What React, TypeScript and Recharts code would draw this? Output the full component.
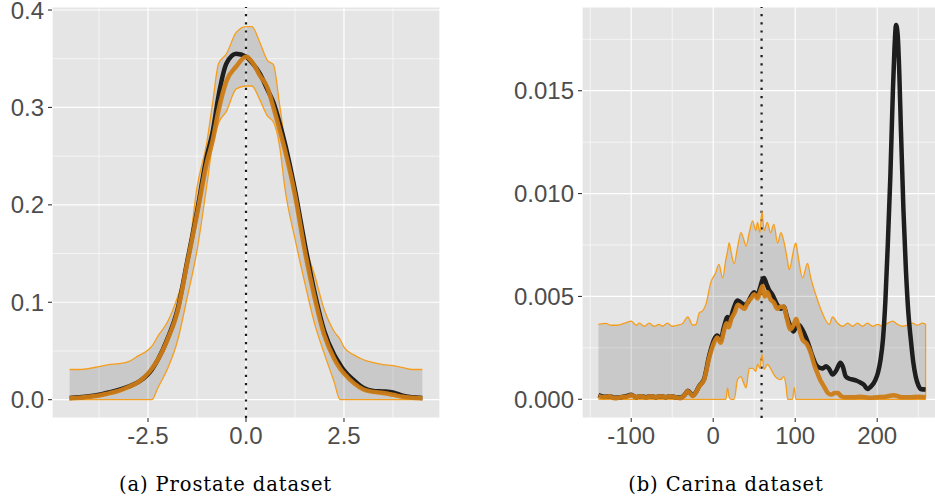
import React from "react";
import { ComposedChart, Area, Line, XAxis, YAxis, ReferenceLine, CartesianGrid } from "recharts";

// ---------- (a) Prostate dataset ----------
const prostateX = [
  -4.5, -4.25, -4, -3.75, -3.5, -3.25, -3, -2.75, -2.5, -2.4,
  -2.25, -2, -1.75, -1.5, -1.25, -1, -0.85, -0.7, -0.5, -0.25,
  0, 0.15, 0.35, 0.55, 0.7, 0.85, 1, 1.25, 1.5, 1.75,
  2, 2.25, 2.4, 2.5, 2.75, 3, 3.25, 3.5, 3.75, 4,
  4.25, 4.5,
];
const prostateTrue = [
  0.0018, 0.0025, 0.0035, 0.005, 0.0075, 0.01, 0.0135, 0.018, 0.026, 0.031,
  0.041, 0.063, 0.092, 0.142, 0.193, 0.25, 0.275, 0.312, 0.345, 0.355,
  0.352, 0.346, 0.335, 0.318, 0.305, 0.285, 0.262, 0.215, 0.16, 0.11,
  0.07, 0.046, 0.036, 0.03, 0.02, 0.012, 0.009, 0.0085, 0.0075, 0.004,
  0.0025, 0.0018,
];
const prostateMean = [
  0.0014, 0.002, 0.003, 0.0043, 0.0065, 0.009, 0.013, 0.018, 0.027, 0.032,
  0.041, 0.062, 0.09, 0.14, 0.19, 0.243, 0.266, 0.297, 0.327, 0.342,
  0.352, 0.347, 0.333, 0.32, 0.3, 0.278, 0.255, 0.21, 0.153, 0.105,
  0.066, 0.042, 0.032, 0.027, 0.017, 0.0105, 0.008, 0.0068, 0.005, 0.003,
  0.002, 0.0014,
];
const prostateLower = [
  0, 0, 0, 0, 0, 0, 0, 0, 0, 0,
  0.012, 0.032, 0.06, 0.105, 0.153, 0.22, 0.262, 0.284, 0.296, 0.319,
  0.322, 0.322, 0.308, 0.291, 0.285, 0.262, 0.215, 0.165, 0.12, 0.078,
  0.047, 0.018, 0, 0, 0, 0, 0, 0, 0, 0,
  0, 0,
];
const prostateUpper = [
  0.031, 0.031, 0.032, 0.034, 0.036, 0.037, 0.039, 0.045, 0.051, 0.055,
  0.065, 0.08, 0.105, 0.14, 0.218, 0.264, 0.305, 0.345, 0.355, 0.377,
  0.383, 0.383, 0.367, 0.348, 0.344, 0.305, 0.262, 0.21, 0.16, 0.128,
  0.092, 0.07, 0.062, 0.054, 0.046, 0.041, 0.038, 0.036, 0.035, 0.033,
  0.031, 0.031,
];
const prostateXTicks = [-2.5, 0, 2.5];
const prostateXLabels = ["-2.5", "0.0", "2.5"];
const prostateXMinor = [-3.75, -1.25, 1.25, 3.75];
const prostateYTicks = [0, 0.1, 0.2, 0.3, 0.4];
const prostateYLabels = ["0.0", "0.1", "0.2", "0.3", "0.4"];
const prostateYMinor = [0.05, 0.15, 0.25, 0.35];
const prostateVLine = 0;

// ---------- (b) Carina dataset ----------
const carinaBandX = [
  -140, -131, -125, -117, -108, -100, -94, -90, -84, -78,
  -72, -66, -62, -56, -50, -43, -37, -31, -25, -21,
  -17, -13, -9, -3, 3, 7, 11.5, 15.5, 17.5, 19.5,
  21.6, 25.6, 29.7, 33.8, 37, 40, 44, 48, 52, 54,
  57, 59.4, 62, 66, 70, 74, 78.5, 82.6, 86, 89,
  90.7, 92.7, 96.8, 98.8, 100.8, 103, 109, 115, 119, 127,
  133, 141.5, 145.6, 151.7, 158, 164, 170, 176, 182, 188,
  194.6, 200.5, 206.6, 212.7, 218.8, 225, 231, 237, 243, 249,
  255, 259,
];
const carinaUpper = [
  0.00364, 0.00369, 0.0036, 0.0036, 0.0037, 0.0038, 0.0036, 0.0037, 0.00355, 0.0037,
  0.00355, 0.00364, 0.00355, 0.0037, 0.00355, 0.0036, 0.0037, 0.004, 0.0036, 0.00364,
  0.0042, 0.0043, 0.0046, 0.00567, 0.00615, 0.00656, 0.0059, 0.0068, 0.0072, 0.0076,
  0.0072, 0.0066, 0.0074, 0.0081, 0.0078, 0.00745, 0.0081, 0.00867, 0.0082, 0.0086,
  0.0081, 0.00915, 0.0082, 0.0086, 0.0081, 0.0085, 0.0076, 0.0081, 0.0077, 0.0071,
  0.0067, 0.0063, 0.007, 0.0074, 0.0076, 0.0071, 0.0059, 0.0066, 0.0059, 0.00485,
  0.0042, 0.00364, 0.004, 0.0037, 0.00355, 0.0037, 0.00355, 0.0037, 0.00355, 0.0037,
  0.00355, 0.00364, 0.00355, 0.0037, 0.0038, 0.00364, 0.00355, 0.0036, 0.0037, 0.0036,
  0.0037, 0.00365,
];
const carinaLower = [
  0, 0, 0, 0, 0, 0, 0, 0, 0, 0,
  0, 0, 0, 0, 0, 0, 0, 0, 0, 0,
  0, 0, 0, 0, 0, 0, 0, 0, 0.00055, 0.0001,
  0, 0, 0.00096, 0.0011, 0.0008, 0.00055, 0.0015, 0.0015, 0.00136, 0.0017,
  0.0015, 0.0022, 0.00145, 0.0017, 0.0015, 0.0012, 0.001, 0.00096, 0.0011, 0.0006,
  0, 0, 0, 0.00058, 0, 0, 0, 0, 0, 0,
  0, 0, 0, 0, 0, 0, 0, 0, 0, 0,
  0, 0, 0, 0, 0, 0, 0, 0, 0, 0,
  0, 0,
];
const carinaMeanX = [
  -140, -133, -127, -120, -113, -106, -100, -94, -88, -82,
  -76, -70, -64, -58, -52, -46, -40, -35, -31, -25,
  -20, -17, -11, -5, 1, 5, 9, 13, 16, 19,
  22, 26, 30, 34, 38, 42, 46, 50, 54, 57,
  60, 63, 66, 70, 74, 78, 82, 86, 90, 94,
  98, 101, 105, 109, 114, 119, 123, 127, 131, 135,
  140, 144, 148, 152, 156, 160, 170, 180, 190, 200,
  210, 220, 230, 240, 250, 259,
];
const carinaMean = [
  0.00015, 0.0001, 0.00015, 0.00005, 0.0001, 0.00012, 0.0002, 0.0001, 0.00015, 0.00008,
  0.00015, 0.0001, 0.00015, 0.0001, 0.00015, 0.0001, 0.00005, 0.0002, 0.0004, 0.00015,
  0.0004, 0.00063, 0.00096, 0.002, 0.00275, 0.003, 0.00275, 0.0033, 0.0037, 0.0035,
  0.0039, 0.0042, 0.0046, 0.0045, 0.0044, 0.0047, 0.0049, 0.0051, 0.0049, 0.0052,
  0.0055, 0.005, 0.0052, 0.00485, 0.0047, 0.0044, 0.0045, 0.0045, 0.0039, 0.0034,
  0.0036, 0.0039, 0.0034, 0.0029, 0.0027, 0.00226, 0.0017, 0.00128, 0.0009, 0.00063,
  0.0003, 0.00023, 0.0003, 0.0003, 0.00015, 0.0001, 0.0001, 0.00012, 0.00008, 0.0001,
  0.00012, 0.0002, 0.0001, 0.0001, 0.00012, 0.0001,
];
const carinaTrueX = [
  -140, -133, -127, -120, -113, -106, -100, -94, -88, -82,
  -76, -70, -64, -58, -52, -46, -40, -35, -31, -25,
  -20, -17, -11, -5, 1, 5, 9, 13, 17.5, 20,
  24, 29.7, 34, 38, 42, 46, 50, 54, 57, 60,
  62, 65, 68.3, 72, 78, 82.6, 86, 90, 94.8, 98,
  101, 105, 107, 111, 116, 121, 125, 129.6, 133, 137.6,
  141, 145.7, 150, 155, 158, 161.8, 166, 170, 175, 180,
  184, 188, 192, 198, 201, 204, 207, 210, 213, 216,
  219, 221, 223, 225, 227, 229, 232, 235, 238, 241,
  244, 247, 250, 253, 259,
];
const carinaTrue = [
  0.0002, 0.00012, 0.00015, 0.00008, 0.0001, 0.00015, 0.00022, 0.0001, 0.00015, 0.0001,
  0.00015, 0.0001, 0.00015, 0.0001, 0.00015, 0.0001, 0.00008, 0.0002, 0.00042, 0.00018,
  0.00042, 0.00065, 0.001, 0.0021, 0.0029, 0.0031, 0.0029, 0.0035, 0.004, 0.0038,
  0.0043, 0.0048, 0.0047, 0.0046, 0.0047, 0.005, 0.0052, 0.005, 0.0054, 0.0058,
  0.0059, 0.0056, 0.0053, 0.0051, 0.0046, 0.0044, 0.0045, 0.004, 0.0035, 0.0033,
  0.0035, 0.0036, 0.0035, 0.0032, 0.0027, 0.0021, 0.0017, 0.00153, 0.0015, 0.0016,
  0.0015, 0.0012, 0.0014, 0.00177, 0.0016, 0.0011, 0.001, 0.00096, 0.0009, 0.0008,
  0.0007, 0.0005, 0.0006, 0.00096, 0.0013, 0.0019, 0.0029, 0.0048, 0.0076, 0.0108,
  0.0148, 0.017, 0.0182, 0.0177, 0.0158, 0.013, 0.0092, 0.0063, 0.0042, 0.0029,
  0.0018, 0.0011, 0.0007, 0.0005, 0.00047,
];
const carinaXTicks = [-100, 0, 100, 200];
const carinaXLabels = ["-100", "0", "100", "200"];
const carinaXMinor = [-150, -50, 50, 150, 250];
const carinaYTicks = [0, 0.005, 0.01, 0.015];
const carinaYLabels = ["0.000", "0.005", "0.010", "0.015"];
const carinaYMinor = [0.0025, 0.0075, 0.0125, 0.0175];
const carinaVLine = 59;

// ---------- styles ----------
const PANEL_BG = "#E5E5E5";
const BAND_FILL = "#000000";
const BAND_OPACITY = 0.12;
const BAND_EDGE = "#F59E1E";
const MEAN_COLOR = "#CD7C17";
const TRUE_COLOR = "#1E1E1E";
const TICK_FONT = { fill: "#4D4D4D", fontSize: 24, fontFamily: "'Liberation Sans', Arial, sans-serif" };

type Row = { x: number; v: number };
const pairs = (xs: number[], ys: number[]): Row[] => xs.map((x, i) => ({ x, v: ys[i] }));

type PanelProps = {
  width: number;
  height: number;
  margin: { top: number; right: number; bottom: number; left: number };
  yAxisWidth: number;
  xDomain: [number, number];
  yDomain: [number, number];
  xTicks: number[];
  xLabels: string[];
  xMinor: number[];
  yTicks: number[];
  yLabels: string[];
  yMinor: number[];
  bandX: number[];
  lower: number[];
  upper: number[];
  trueX: number[];
  trueY: number[];
  meanX: number[];
  meanY: number[];
  vline: number;
  closeRightEdge?: boolean;
};

function Panel(p: PanelProps) {
  const bandRows = p.bandX.map((x, i) => ({ x, band: [p.lower[i], p.upper[i]] }));
  const lowerRows = pairs(p.bandX, p.lower);
  const upperRows = pairs(p.bandX, p.upper);
  const trueRows = pairs(p.trueX, p.trueY);
  const meanRows = pairs(p.meanX, p.meanY);
  const last = p.bandX.length - 1;
  const edgeRows: Row[] = [
    { x: p.bandX[last], v: p.lower[last] },
    { x: p.bandX[last], v: p.upper[last] },
  ];
  const xFmt = (v: number) => p.xLabels[p.xTicks.indexOf(v)] ?? String(v);
  const yFmt = (v: number) => p.yLabels[p.yTicks.indexOf(v)] ?? String(v);
  return (
    <ComposedChart width={p.width} height={p.height} margin={p.margin}>
      <CartesianGrid fill={PANEL_BG} stroke="#FFFFFF" strokeWidth={1.2} />
      <XAxis
        dataKey="x"
        type="number"
        domain={p.xDomain}
        ticks={p.xTicks}
        interval={0}
        allowDataOverflow
        tickFormatter={xFmt}
        axisLine={false}
        tickLine={{ stroke: "#333333", strokeWidth: 1.1 }}
        tickSize={4}
        tickMargin={5}
        height={32}
        tick={TICK_FONT}
      />
      <YAxis
        type="number"
        domain={p.yDomain}
        ticks={p.yTicks}
        interval={0}
        allowDataOverflow
        tickFormatter={yFmt}
        axisLine={false}
        tickLine={{ stroke: "#333333", strokeWidth: 1.1 }}
        tickSize={4}
        tickMargin={4}
        width={p.yAxisWidth}
        tick={TICK_FONT}
      />
      {p.xMinor.map((v) => (
        <ReferenceLine key={"xm" + v} x={v} stroke="#FFFFFF" strokeWidth={0.6} zIndex={-50} />
      ))}
      {p.yMinor.map((v) => (
        <ReferenceLine key={"ym" + v} y={v} stroke="#FFFFFF" strokeWidth={0.6} zIndex={-50} />
      ))}
      <Area
        data={bandRows}
        dataKey="band"
        type="monotone"
        stroke="none"
        fill={BAND_FILL}
        fillOpacity={BAND_OPACITY}
        isAnimationActive={false}
      />
      <ReferenceLine x={p.vline} stroke="#1A1A1A" strokeWidth={2.2} strokeDasharray="2.2 6" />
      <Line data={upperRows} dataKey="v" type="monotone" stroke={BAND_EDGE} strokeWidth={1.3} dot={false} isAnimationActive={false} />
      <Line data={lowerRows} dataKey="v" type="monotone" stroke={BAND_EDGE} strokeWidth={1.3} dot={false} isAnimationActive={false} />
      {p.closeRightEdge ? (
        <Line data={edgeRows} dataKey="v" type="linear" stroke={BAND_EDGE} strokeWidth={1.3} dot={false} isAnimationActive={false} />
      ) : null}
      <Line data={trueRows} dataKey="v" type="monotone" stroke={TRUE_COLOR} strokeWidth={4.5} dot={false} isAnimationActive={false} />
      <Line data={meanRows} dataKey="v" type="monotone" stroke={MEAN_COLOR} strokeWidth={4.5} strokeOpacity={0.95} dot={false} isAnimationActive={false} />
    </ComposedChart>
  );
}

const captionStyle: React.CSSProperties = {
  position: "absolute",
  top: 473,
  fontFamily: "'DejaVu Serif', serif",
  fontSize: 19.5,
  letterSpacing: 0.9,
  lineHeight: "24px",
  textAlign: "center",
  color: "#000",
};

export default function App() {
  return (
    <div style={{ position: "absolute", left: 0, top: 0, width: 935, height: 497, overflow: "hidden", background: "#fff" }}>
      <div style={{ position: "absolute", left: 0, top: 0 }}>
        <Panel
          width={460}
          height={450}
          margin={{ top: 7, right: 20, bottom: 0, left: 0 }}
          yAxisWidth={52}
          xDomain={[-4.95, 4.95]}
          yDomain={[-0.0188, 0.4031]}
          xTicks={prostateXTicks}
          xLabels={prostateXLabels}
          xMinor={prostateXMinor}
          yTicks={prostateYTicks}
          yLabels={prostateYLabels}
          yMinor={prostateYMinor}
          bandX={prostateX}
          lower={prostateLower}
          upper={prostateUpper}
          trueX={prostateX}
          trueY={prostateTrue}
          meanX={prostateX}
          meanY={prostateMean}
          vline={prostateVLine}
        />
      </div>
      <div style={{ position: "absolute", left: 470, top: 0 }}>
        <Panel
          width={480}
          height={450}
          margin={{ top: 7, right: 7.2, bottom: 0, left: 0 }}
          yAxisWidth={112}
          xDomain={[-160, 280]}
          yDomain={[-0.00091, 0.01907]}
          xTicks={carinaXTicks}
          xLabels={carinaXLabels}
          xMinor={carinaXMinor}
          yTicks={carinaYTicks}
          yLabels={carinaYLabels}
          yMinor={carinaYMinor}
          bandX={carinaBandX}
          lower={carinaLower}
          upper={carinaUpper}
          trueX={carinaTrueX}
          trueY={carinaTrue}
          meanX={carinaMeanX}
          meanY={carinaMean}
          vline={carinaVLine}
          closeRightEdge
        />
      </div>
      <div style={{ ...captionStyle, left: 0, width: 451 }}>(a) Prostate dataset</div>
      <div style={{ ...captionStyle, left: 517, width: 418 }}>(b) Carina dataset</div>
    </div>
  );
}
